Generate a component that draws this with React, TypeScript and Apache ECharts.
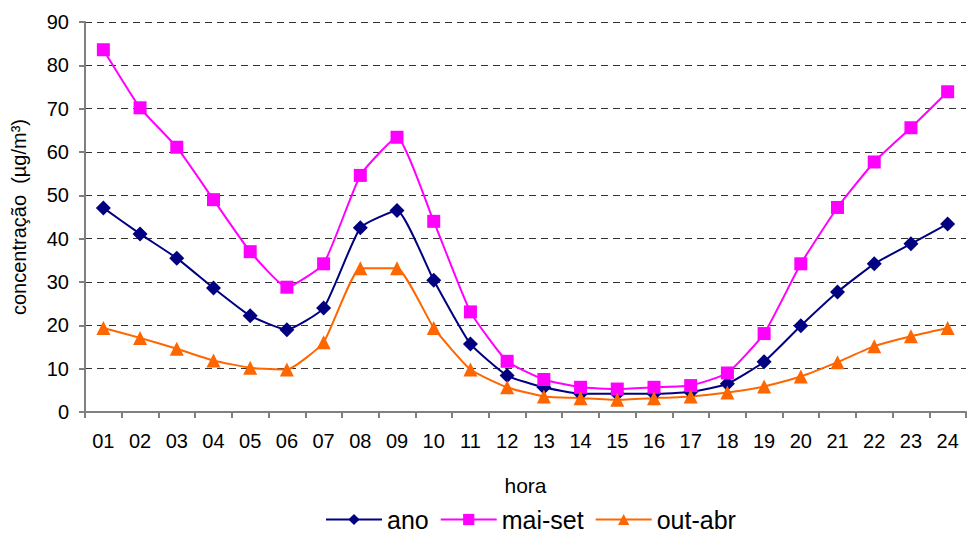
import React, { useEffect, useRef } from 'react';
import * as echarts from 'echarts';

const horas = ['01', '02', '03', '04', '05', '06', '07', '08', '09', '10', '11', '12',
  '13', '14', '15', '16', '17', '18', '19', '20', '21', '22', '23', '24'];

const ano = [47.1, 41.1, 35.5, 28.6, 22.2, 19.0, 24.0, 42.5, 46.5, 30.4, 15.7, 8.4,
  5.7, 4.2, 4.2, 4.2, 4.6, 6.5, 11.6, 19.9, 27.7, 34.2, 38.8, 43.4];

const maiSet = [83.6, 70.2, 61.1, 49.0, 37.0, 28.8, 34.2, 54.6, 63.4, 44.0, 23.1, 11.7,
  7.5, 5.7, 5.3, 5.7, 6.1, 9.0, 18.1, 34.2, 47.2, 57.7, 65.6, 73.9];

const outAbr = [19.4, 17.1, 14.6, 11.9, 10.2, 9.8, 16.1, 33.2, 33.2, 19.4, 9.8, 5.7,
  3.6, 3.2, 2.8, 3.2, 3.6, 4.5, 5.9, 8.2, 11.5, 15.2, 17.5, 19.4];

const FONT = '"Liberation Sans", Arial, sans-serif';

export default function App() {
  const chartRef = useRef<HTMLDivElement>(null);

  useEffect(() => {
    document.body.style.margin = '0';
    if (!chartRef.current) return;
    const chart = echarts.init(chartRef.current, undefined, { renderer: 'svg' });

    const line = (name: string, data: number[], color: string, symbol: string, size: number) => ({
      name,
      type: 'line',
      data,
      smooth: 0.15,
      symbol,
      symbolSize: size,
      lineStyle: { color, width: 2 },
      itemStyle: { color },
    });

    chart.setOption({
      animation: false,
      backgroundColor: '#fff',
      textStyle: { fontFamily: FONT },
      grid: { left: 85, right: 2, top: 22, bottom: 122 },
      legend: {
        bottom: -3,
        left: 320,
        itemWidth: 56,
        itemHeight: 14,
        itemGap: 11,
        textStyle: { fontSize: 25, color: '#000', fontFamily: FONT },
        data: ['ano', 'mai-set', 'out-abr'],
      },
      xAxis: {
        type: 'category',
        data: horas,
        boundaryGap: true,
        name: 'hora',
        nameLocation: 'middle',
        nameGap: 63,
        nameTextStyle: { fontSize: 21, color: '#000', fontFamily: FONT },
        axisLine: { lineStyle: { color: '#808080', width: 2 } },
        axisTick: { show: true, length: 6, lineStyle: { color: '#808080', width: 2 } },
        axisLabel: { fontSize: 20, color: '#000', margin: 19, fontFamily: FONT },
        splitLine: { show: false },
      },
      yAxis: {
        type: 'value',
        min: 0,
        max: 90,
        interval: 10,
        name: 'concentração  (µg/m³)',
        nameLocation: 'middle',
        nameGap: 56,
        nameTextStyle: { fontSize: 20, color: '#000', fontFamily: FONT },
        axisLine: { show: true, lineStyle: { color: '#808080', width: 2 } },
        axisTick: { show: true, length: 6, lineStyle: { color: '#808080', width: 2 } },
        axisLabel: { fontSize: 20, color: '#000', margin: 16, fontFamily: FONT },
        splitLine: { show: true, lineStyle: { color: '#333', type: [7, 5], width: 1 } },
      },
      series: [
        line('ano', ano, '#000080', 'diamond', 15),
        line('mai-set', maiSet, '#FF00FF', 'rect', 13),
        line('out-abr', outAbr, '#FF6600', 'triangle', 14),
      ],
    });

    return () => {
      chart.dispose();
    };
  }, []);

  return <div ref={chartRef} style={{ width: 968, height: 534 }} />;
}
